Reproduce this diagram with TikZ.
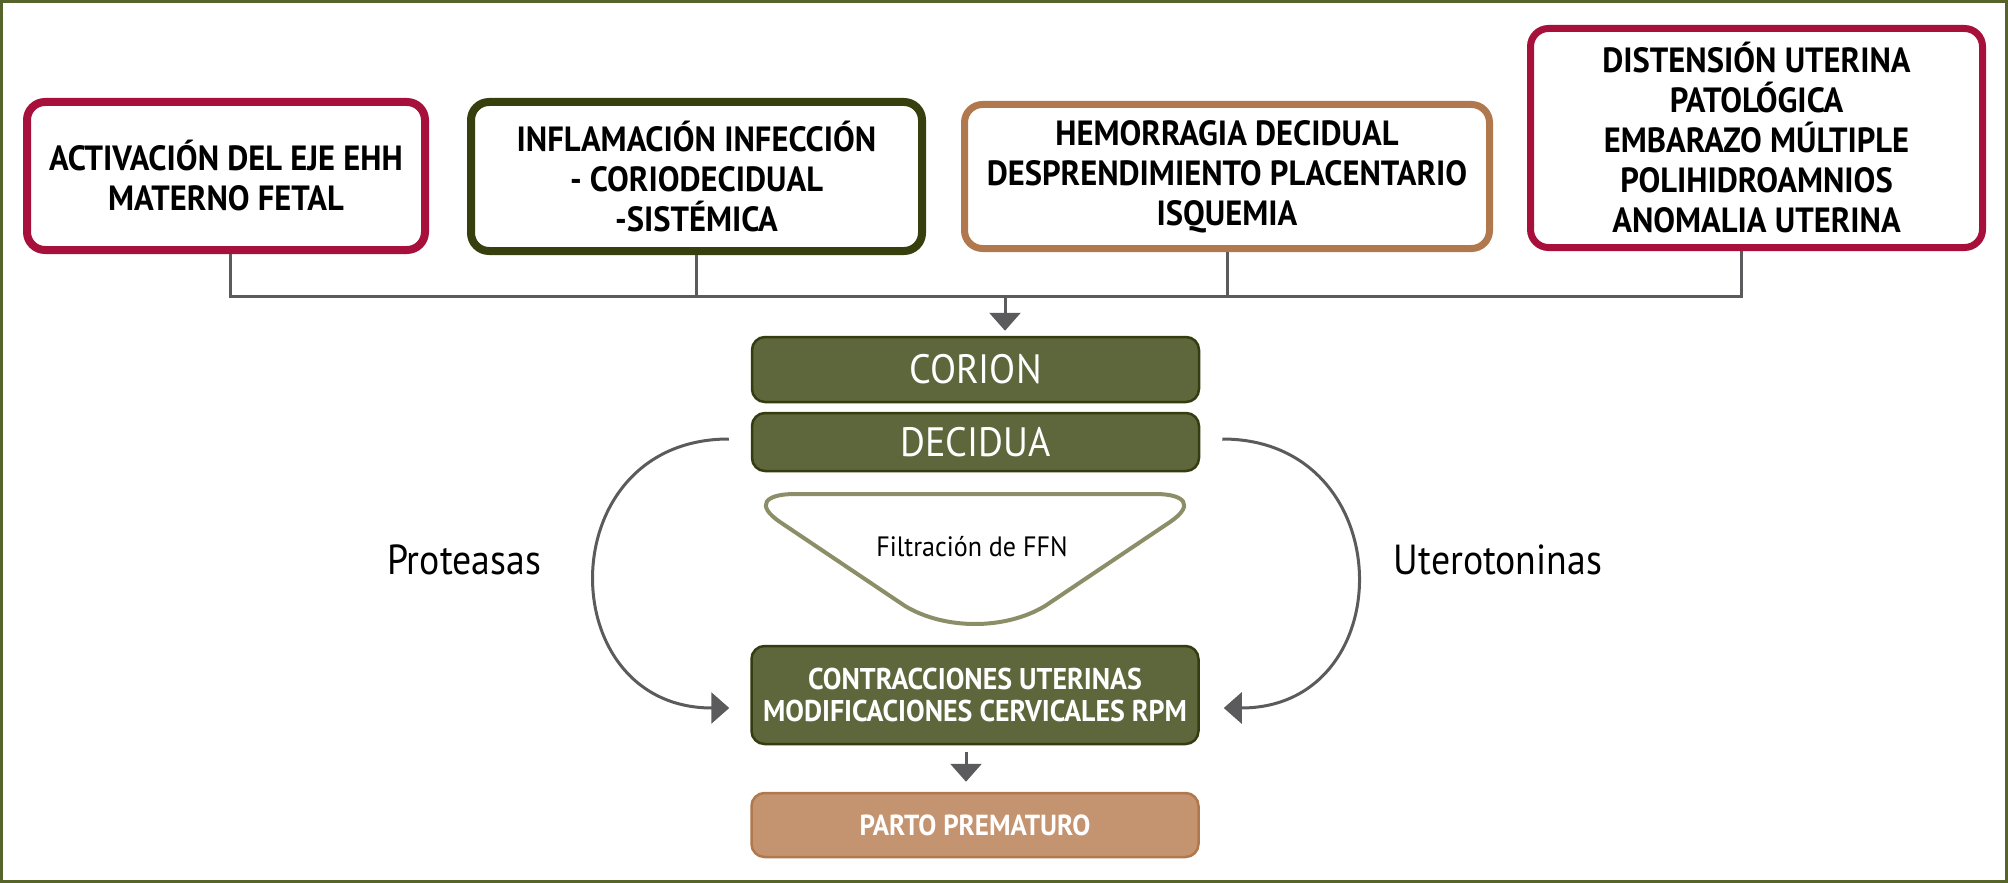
\documentclass[tikz,border=0pt]{standalone}
\usepackage{fontspec}
\setmainfont{PT Sans}
\newfontfamily\cf[FakeStretch=0.93]{PT Sans}
\newfontfamily\cfn[FakeStretch=0.90]{PT Sans}
\usetikzlibrary{arrows.meta}
\definecolor{crim}{HTML}{A6103A}
\definecolor{dolive}{HTML}{373F0F}
\definecolor{tanc}{HTML}{B0784C}
\definecolor{ofill}{HTML}{5E663B}
\definecolor{oedge}{HTML}{343C10}
\definecolor{pfill}{HTML}{C49370}
\definecolor{funnelc}{HTML}{8B8E67}
\definecolor{conncol}{HTML}{5B5B5E}
\definecolor{framec}{HTML}{56642A}
\tikzset{
  topbox/.style={draw, rounded corners=9pt, line width=4pt, fill=white, align=center,
    font=\cf\bfseries\fontsize{17.5}{20}\selectfont, inner sep=0pt},
  greenbox/.style={draw=oedge, fill=ofill, line width=1.25pt, rounded corners=6.5pt,
    text=white, minimum width=223.5pt, align=center, inner sep=0pt},
  conn/.style={draw=conncol, line width=1.5pt},
  arr/.style={-{Triangle[length=9pt,width=15.5pt]}},
  sidelabel/.style={font=\cfn\fontsize{21}{24}\selectfont, inner sep=0pt}
}
\begin{document}
\begin{tikzpicture}[x=0.5pt,y=-0.5pt]
\useasboundingbox (0,0) rectangle (2008,883);
\draw[framec, line width=1.5pt] (1.5,1.5) rectangle (2006.5,881.5);

\node[topbox, draw=crim, minimum width=199pt, minimum height=74pt] (b1) at (226,176)
  {ACTIVACIÓN DEL EJE EHH\\MATERNO FETAL};
\node[topbox, draw=dolive, minimum width=225.5pt, minimum height=74.5pt] (b2) at (696.5,176.5)
  {INFLAMACIÓN INFECCIÓN\\- CORIODECIDUAL\\-SISTÉMICA};
\node[topbox, draw=tanc, line width=3.5pt, minimum width=262.5pt, minimum height=72pt] (b3) at (1227,176.5)
  {HEMORRAGIA DECIDUAL\\DESPRENDIMIENTO PLACENTARIO\\ISQUEMIA};
\node[topbox, draw=crim, line width=3.5pt, minimum width=226pt, minimum height=109.5pt] (b4) at (1756.5,138)
  {DISTENSIÓN UTERINA\\PATOLÓGICA\\EMBARAZO MÚLTIPLE\\POLIHIDROAMNIOS\\ANOMALIA UTERINA};

\node[greenbox, minimum height=32.5pt, font=\cf\fontsize{20.5}{24}\selectfont] (corion) at (975.5,369.5) {CORION};
\node[greenbox, minimum height=29pt, font=\cf\fontsize{20.5}{24}\selectfont] (decidua) at (975.5,442) {DECIDUA};
\node[greenbox, minimum height=49pt, font=\cf\bfseries\fontsize{15}{16}\selectfont] (contr) at (975,695)
  {CONTRACCIONES UTERINAS\\MODIFICACIONES CERVICALES RPM};
\node[greenbox, draw=tanc, fill=pfill, minimum height=32pt, font=\cf\bfseries\fontsize{14.5}{16}\selectfont] (parto) at (975,825)
  {PARTO PREMATURO};

% funnel
\draw[funnelc, line width=2pt] (795,494) -- (1155,494)
  .. controls (1185,494) and (1195,505) .. (1170,522) -- (1045,606)
  .. controls (1005,630) and (945,630) .. (905,606) -- (780,522)
  .. controls (755,505) and (765,494) .. (795,494) -- cycle;
\node[font=\cf\fontsize{14}{16}\selectfont, inner sep=0pt] (ffn) at (972,547) {Filtración de FFN};

% connectors
\coordinate (hl) at (1005,296);
\draw[conn] ([xshift=2pt]b1.south) |- ([xshift=-7.5pt]b4.south |- hl) -- ([xshift=-7.5pt]b4.south);
\draw[conn] (b2.south) -- (b2.south |- hl);
\draw[conn] (b3.south) -- (b3.south |- hl);
\draw[conn, arr, shorten >=2.5pt] (hl) -- (hl |- corion.north);
\draw[conn, arr, shorten <=3.5pt, shorten >=5pt] ([xshift=-4.5pt]contr.south) -- ([xshift=-4.5pt]parto.north);

\draw[conn, arr] ([xshift=-11pt,yshift=1.5pt]decidua.west) .. controls +(-179,0) and +(-179,0) .. ([xshift=-10.5pt,yshift=-6.5pt]contr.west);
\draw[conn, arr] ([xshift=11pt,yshift=1.5pt]decidua.east) .. controls +(179,0) and +(179,0) .. ([xshift=12pt,yshift=-6.5pt]contr.east);

\node[sidelabel] (prot) at (464,560) {Proteasas};
\node[sidelabel] (utero) at (1498,560) {Uterotoninas};
\end{tikzpicture}
\end{document}
